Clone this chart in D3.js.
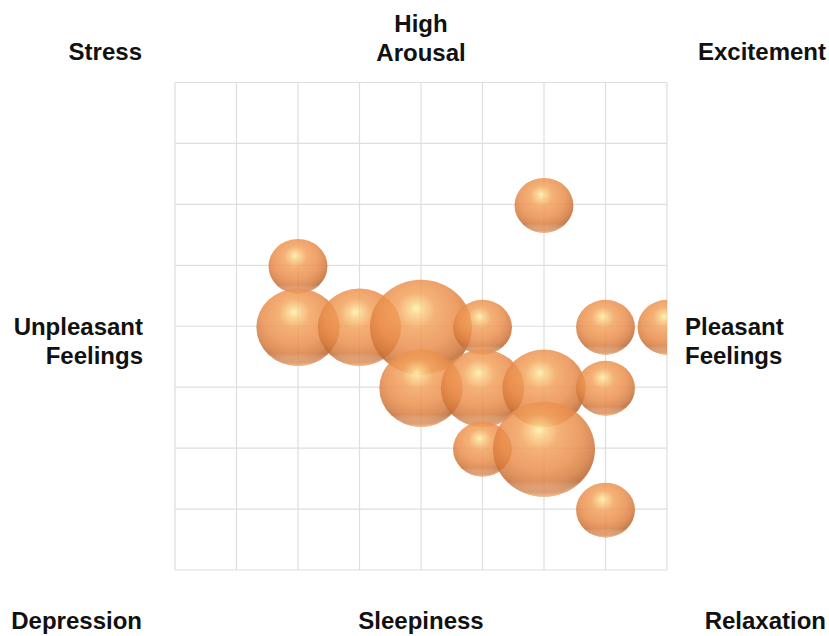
<!DOCTYPE html>
<html>
<head>
<meta charset="utf-8">
<script src="https://cdn.jsdelivr.net/npm/d3@7"></script>
<style>
  html, body { margin: 0; padding: 0; background: #fff; }
  svg { display: block; }
  text { font-family: "Liberation Sans", Arial, sans-serif; font-weight: bold; fill: #111; }
</style>
</head>
<body>
<svg id="chart" width="829" height="636"></svg>
<script>
// Valence (x) and arousal (y) of each observation, on a -4..4 grid
const valence = [2, -2, -2, -1, 0, 1, 3, 4, 0, 1, 2, 3, 1, 2, 3];
const arousal = [2, 1, 0, 0, 0, 0, 0, 0, -1, -1, -1, -1, -2, -2, -3];
const counts  = [1, 1, 2, 2, 3, 1, 1, 1, 2, 2, 2, 1, 1, 3, 1];

const gridTicks = [-4, -3, -2, -1, 0, 1, 2, 3, 4];

// Quadrant and axis labels around the plot
const cornerLabels = [
  { lines: ["Stress"], pos: "tl" },
  { lines: ["High", "Arousal"], pos: "tc" },
  { lines: ["Excitement"], pos: "tr" },
  { lines: ["Unpleasant", "Feelings"], pos: "ml" },
  { lines: ["Pleasant", "Feelings"], pos: "mr" },
  { lines: ["Depression"], pos: "bl" },
  { lines: ["Sleepiness"], pos: "bc" },
  { lines: ["Relaxation"], pos: "br" }
];

const svg = d3.select("#chart");
const plot = { left: 175, right: 667, top: 82.5, bottom: 570 };

const x = d3.scaleLinear().domain([-4, 4]).range([plot.left, plot.right]);
const y = d3.scaleLinear().domain([-4, 4]).range([plot.bottom, plot.top]);
const r = d3.scaleSqrt().domain([0, 3]).range([0, 51]);

const defs = svg.append("defs");

// Sphere shading for bubbles
const grad = defs.append("radialGradient")
  .attr("id", "sphere")
  .attr("cx", "0.47").attr("cy", "0.38").attr("r", "0.64")
  .attr("fx", "0.45").attr("fy", "0.3");
[
  [0.00, "#fff2a6"],
  [0.10, "#fbd088"],
  [0.30, "#f3a25c"],
  [0.60, "#ea8e4c"],
  [0.80, "#d57a3c"],
  [0.93, "#b8642e"],
  [1.00, "#d98a52"]
].forEach(([o, c]) => grad.append("stop").attr("offset", o).attr("stop-color", c));

// Faint reflected light along the lower rim
const rim = defs.append("linearGradient")
  .attr("id", "rim").attr("x1", 0).attr("y1", 0).attr("x2", 0).attr("y2", 1);
[
  [0.0, "#ffffff", 0],
  [0.84, "#ffffff", 0],
  [0.95, "#f7b27a", 0.5],
  [1.0, "#f7b27a", 0.9]
].forEach(([o, c, a]) => rim.append("stop").attr("offset", o).attr("stop-color", c).attr("stop-opacity", a));

defs.append("clipPath").attr("id", "plotClip")
  .append("rect")
  .attr("x", plot.left).attr("y", plot.top)
  .attr("width", plot.right - plot.left).attr("height", plot.bottom - plot.top);

// Grid
const grid = svg.append("g").attr("stroke", "#dedede").attr("stroke-width", 1.2);
grid.selectAll("line.v").data(gridTicks).join("line")
  .attr("class", "v")
  .attr("x1", d => x(d)).attr("x2", d => x(d))
  .attr("y1", plot.top).attr("y2", plot.bottom);
grid.selectAll("line.h").data(gridTicks).join("line")
  .attr("class", "h")
  .attr("y1", d => y(d)).attr("y2", d => y(d))
  .attr("x1", plot.left).attr("x2", plot.right);

// Bubbles
const data = valence.map((v, i) => ({ v, a: arousal[i], n: counts[i] }));
const bubbles = svg.append("g").attr("clip-path", "url(#plotClip)");
const squash = 0.93;

const b = bubbles.selectAll("g.bubble").data(data).join("g")
  .attr("class", "bubble")
  .attr("opacity", 0.84);

b.append("ellipse")
  .attr("cx", d => x(d.v)).attr("cy", d => y(d.a) + 1)
  .attr("rx", d => r(d.n)).attr("ry", d => r(d.n) * squash)
  .attr("fill", "url(#sphere)");

b.append("ellipse")
  .attr("cx", d => x(d.v)).attr("cy", d => y(d.a) + 1)
  .attr("rx", d => r(d.n)).attr("ry", d => r(d.n) * squash)
  .attr("fill", "url(#rim)");

// Labels
const fontSize = 24;
const lineGap = 29;
const labelPos = {
  tl: { x: 142, y: 60, anchor: "end" },
  tc: { x: 421, y: 32, anchor: "middle" },
  tr: { x: 826, y: 60, anchor: "end" },
  ml: { x: 143, y: 335, anchor: "end" },
  mr: { x: 685, y: 335, anchor: "start" },
  bl: { x: 142, y: 629, anchor: "end" },
  bc: { x: 421, y: 629, anchor: "middle" },
  br: { x: 826, y: 629, anchor: "end" }
};

const labels = svg.append("g");
cornerLabels.forEach(lab => {
  const p = labelPos[lab.pos];
  const t = labels.append("text")
    .attr("x", p.x).attr("y", p.y)
    .attr("text-anchor", p.anchor)
    .attr("font-size", fontSize);
  lab.lines.forEach((line, i) => {
    t.append("tspan")
      .attr("x", p.x)
      .attr("dy", i === 0 ? 0 : lineGap)
      .text(line);
  });
});
</script>
</body>
</html>
